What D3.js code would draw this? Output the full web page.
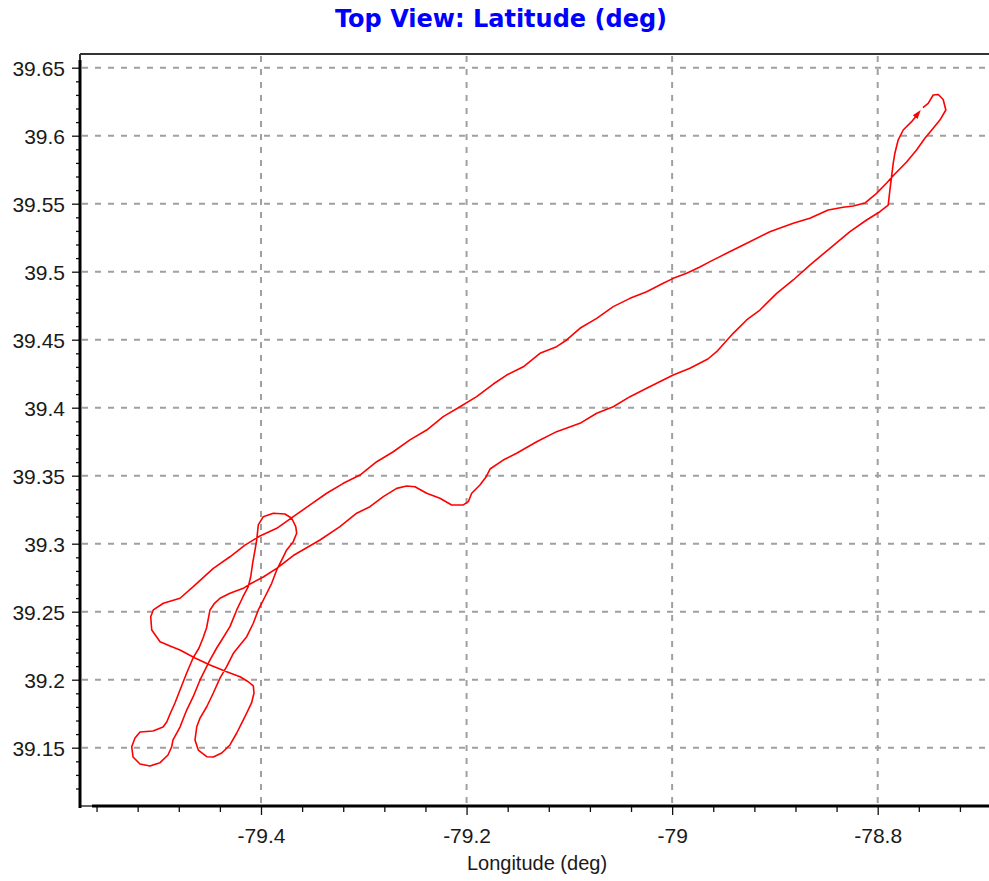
<!DOCTYPE html>
<html>
<head>
<meta charset="utf-8">
<script src="https://cdn.jsdelivr.net/npm/d3@7"></script>
<style>
  html, body { margin: 0; padding: 0; background: #fff; }
  svg { display: block; }
</style>
</head>
<body>
<svg id="chart" width="989" height="881"></svg>
<script>
// ---------------- DATA ----------------
const title = "Top View: Latitude (deg)";
const xLabel = "Longitude (deg)";

const xTicks = [-79.4, -79.2, -79.0, -78.8];
const xTickLabels = ["-79.4", "-79.2", "-79", "-78.8"];
const yTicks = [39.15, 39.2, 39.25, 39.3, 39.35, 39.4, 39.45, 39.5, 39.55, 39.6, 39.65];
const yTickLabels = ["39.15", "39.2", "39.25", "39.3", "39.35", "39.4", "39.45", "39.5", "39.55", "39.6", "39.65"];
const xMinorTicks = [-79.56, -79.52, -79.48, -79.44, -79.36, -79.32, -79.28, -79.24,
  -79.16, -79.12, -79.08, -79.04, -78.96, -78.92, -78.88, -78.84, -78.76, -78.72];
const yMinorTicks = [39.12, 39.13, 39.14, 39.16, 39.17, 39.18, 39.19, 39.21, 39.22, 39.23, 39.24,
  39.26, 39.27, 39.28, 39.29, 39.31, 39.32, 39.33, 39.34, 39.36, 39.37, 39.38, 39.39,
  39.41, 39.42, 39.43, 39.44, 39.46, 39.47, 39.48, 39.49, 39.51, 39.52, 39.53, 39.54,
  39.56, 39.57, 39.58, 39.59, 39.61, 39.62, 39.63, 39.64];

// flight track (longitude, latitude), in time order; ends at aircraft marker
const lon = [
  -78.7560, -78.7509, -78.7460, -78.7411, -78.7363, -78.7337, -78.7395, -78.7460, -78.7541, -78.7622,
  -78.7719, -78.7852, -78.7913, -78.8011, -78.8125, -78.8238, -78.8336, -78.8482, -78.8660, -78.8822,
  -78.9049, -78.9308, -78.9470, -78.9632, -78.9730, -78.9859, -78.9989, -79.0087, -79.0248, -79.0410,
  -79.0573, -79.0734, -79.0897, -79.1026, -79.1124, -79.1286, -79.1448, -79.1610, -79.1740, -79.1902,
  -79.2064, -79.2227, -79.2388, -79.2551, -79.2713, -79.2874, -79.3037, -79.3199, -79.3361, -79.3523,
  -79.3686, -79.3847, -79.4010, -79.4156, -79.4302, -79.4464, -79.4659, -79.4788, -79.4950, -79.5048,
  -79.5073, -79.5063, -79.4982, -79.4885, -79.4788, -79.4642, -79.4496, -79.4334, -79.4204, -79.4124,
  -79.4075, -79.4068, -79.4092, -79.4139, -79.4172, -79.4236, -79.4302, -79.4382, -79.4464, -79.4528,
  -79.4610, -79.4642, -79.4625, -79.4593, -79.4528, -79.4464, -79.4399, -79.4334, -79.4269, -79.4204,
  -79.4139, -79.4075, -79.4026, -79.3961, -79.3896, -79.3847, -79.3799, -79.3750, -79.3686, -79.3653,
  -79.3662, -79.3701, -79.3767, -79.3880, -79.3978, -79.4026, -79.4042, -79.4058, -79.4081, -79.4100,
  -79.4124, -79.4175, -79.4236, -79.4302, -79.4382, -79.4431, -79.4496, -79.4593, -79.4661, -79.4723,
  -79.4788, -79.4856, -79.4869, -79.4905, -79.4982, -79.5080, -79.5177, -79.5245, -79.5258, -79.5226,
  -79.5177, -79.5051, -79.4953, -79.4917, -79.4885, -79.4837, -79.4788, -79.4723, -79.4661, -79.4603,
  -79.4564, -79.4530, -79.4511, -79.4496, -79.4457, -79.4399, -79.4302, -79.4172, -79.4107, -79.3978,
  -79.3847, -79.3686, -79.3426, -79.3232, -79.3069, -79.2940, -79.2810, -79.2680, -79.2583, -79.2502,
  -79.2388, -79.2259, -79.2145, -79.2032, -79.1983, -79.1950, -79.1870, -79.1811, -79.1772, -79.1643,
  -79.1513, -79.1318, -79.1124, -79.0897, -79.0734, -79.0573, -79.0410, -79.0248, -79.0087, -78.9989,
  -78.9827, -78.9652, -78.9567, -78.9406, -78.9275, -78.9146, -78.8983, -78.8822, -78.8660, -78.8465,
  -78.8270, -78.8108, -78.7979, -78.7898, -78.7881, -78.7865, -78.7849, -78.7833, -78.7801, -78.7752,
  -78.7670, -78.7599
];
const lat = [
  39.6207, 39.6238, 39.6299, 39.6303, 39.6266, 39.6189, 39.6115, 39.6054, 39.5981, 39.5895,
  39.5807, 39.5704, 39.5652, 39.5576, 39.5505, 39.5483, 39.5474, 39.5454, 39.5393, 39.5356,
  39.5294, 39.5196, 39.5135, 39.5074, 39.5035, 39.4988, 39.4951, 39.4915, 39.4853, 39.4804,
  39.4743, 39.4657, 39.4584, 39.4498, 39.4449, 39.4400, 39.4301, 39.4240, 39.4174, 39.4081,
  39.4007, 39.3934, 39.3836, 39.3763, 39.3676, 39.3603, 39.3505, 39.3444, 39.3371, 39.3285,
  39.3199, 39.3113, 39.3057, 39.2990, 39.2904, 39.2819, 39.2684, 39.2599, 39.2562, 39.2513,
  39.2463, 39.2365, 39.2279, 39.2248, 39.2218, 39.2160, 39.2108, 39.2059, 39.2022, 39.1985,
  39.1954, 39.1902, 39.1829, 39.1755, 39.1704, 39.1608, 39.1520, 39.1461, 39.1432, 39.1434,
  39.1483, 39.1557, 39.1654, 39.1718, 39.1801, 39.1902, 39.2012, 39.2096, 39.2194, 39.2255,
  39.2316, 39.2415, 39.2513, 39.2610, 39.2709, 39.2807, 39.2880, 39.2954, 39.3015, 39.3077,
  39.3125, 39.3187, 39.3218, 39.3224, 39.3199, 39.3138, 39.3027, 39.2954, 39.2858, 39.2757,
  39.2684, 39.2610, 39.2513, 39.2390, 39.2292, 39.2233, 39.2145, 39.1998, 39.1873, 39.1777,
  39.1652, 39.1557, 39.1507, 39.1446, 39.1390, 39.1365, 39.1380, 39.1432, 39.1507, 39.1571,
  39.1615, 39.1623, 39.1652, 39.1689, 39.1748, 39.1829, 39.1924, 39.2049, 39.2160, 39.2233,
  39.2307, 39.2380, 39.2454, 39.2513, 39.2557, 39.2599, 39.2635, 39.2672, 39.2704, 39.2755,
  39.2819, 39.2913, 39.3027, 39.3125, 39.3224, 39.3272, 39.3346, 39.3407, 39.3424, 39.3419,
  39.3371, 39.3334, 39.3285, 39.3285, 39.3309, 39.3371, 39.3432, 39.3490, 39.3549, 39.3615,
  39.3665, 39.3750, 39.3824, 39.3885, 39.3959, 39.4007, 39.4081, 39.4143, 39.4204, 39.4240,
  39.4290, 39.4358, 39.4412, 39.4547, 39.4645, 39.4718, 39.4841, 39.4939, 39.5049, 39.5172,
  39.5294, 39.5380, 39.5441, 39.5490, 39.5601, 39.5699, 39.5797, 39.5871, 39.5968, 39.6042,
  39.6103, 39.6171
];

// ---------------- LAYOUT ----------------
const W = 989, H = 881;
const plotLeft = 80, plotRight = 989, plotTop = 54, plotBottom = 806;

const x = d3.scaleLinear().domain([-79.4, -78.8]).range([261, 877.7]);
const y = d3.scaleLinear().domain([39.15, 39.65]).range([747.7, 67.7]);

const svg = d3.select("#chart");
svg.append("rect").attr("width", W).attr("height", H).attr("fill", "#fff");

const defs = svg.append("defs");
defs.append("marker")
  .attr("id", "arrow")
  .attr("viewBox", "0 -4 9 8")
  .attr("refX", 6).attr("refY", 0)
  .attr("markerWidth", 9).attr("markerHeight", 8)
  .attr("markerUnits", "userSpaceOnUse")
  .attr("orient", "auto")
  .append("path").attr("d", "M0,-3L9,0L0,3Z").attr("fill", "#ff0000");

// gridlines
const grid = svg.append("g").attr("stroke", "#a0a0a0").attr("stroke-width", 2)
  .attr("stroke-dasharray", "6,7").attr("fill", "none");
grid.selectAll("line.v").data(xTicks).join("line").attr("class", "v")
  .attr("x1", d => x(d)).attr("x2", d => x(d))
  .attr("y1", plotTop + 2).attr("y2", plotBottom);
grid.selectAll("line.h").data(yTicks).join("line").attr("class", "h")
  .attr("x1", plotLeft + 2).attr("x2", plotRight)
  .attr("y1", d => y(d)).attr("y2", d => y(d));

// top frame line
svg.append("line").attr("x1", plotLeft).attr("x2", plotRight)
  .attr("y1", plotTop).attr("y2", plotTop)
  .attr("stroke", "#333").attr("stroke-width", 2);
svg.append("line").attr("x1", plotLeft).attr("x2", plotLeft)
  .attr("y1", plotTop).attr("y2", plotBottom)
  .attr("stroke", "#333").attr("stroke-width", 2);
svg.append("line").attr("x1", plotLeft).attr("x2", plotRight)
  .attr("y1", plotBottom).attr("y2", plotBottom)
  .attr("stroke", "#333").attr("stroke-width", 1.5);

// flight track
const pts = lon.map((d, i) => [d, lat[i]]);
const line = d3.line().x(d => x(d[0])).y(d => y(d[1])).curve(d3.curveLinear);
svg.append("path").datum(pts)
  .attr("d", line)
  .attr("fill", "none")
  .attr("stroke", "#ff0000")
  .attr("stroke-width", 1.6)
  .attr("stroke-linejoin", "round")
  .attr("marker-end", "url(#arrow)");

// axes
const tickFont = "'Liberation Sans', Arial, sans-serif";
const xAxisG = svg.append("g").attr("transform", `translate(0,${plotBottom})`);
xAxisG.append("g").call(d3.axisBottom(x).tickValues(xMinorTicks).tickSize(6).tickFormat(""))
  .call(g => g.select(".domain").remove());
xAxisG.append("g").call(d3.axisBottom(x).tickValues(xTicks).tickSize(9)
    .tickFormat((d, i) => xTickLabels[i]))
  .call(g => g.select(".domain").remove())
  .call(g => g.selectAll("text").attr("y", 37).attr("dy", null)
    .attr("font-family", tickFont).attr("font-size", 21).attr("fill", "#1a1a1a"));
xAxisG.selectAll(".tick line").attr("stroke", "#111").attr("stroke-width", 1.3);

const yAxisG = svg.append("g").attr("transform", `translate(${plotLeft},0)`);
yAxisG.append("g").call(d3.axisLeft(y).tickValues(yMinorTicks).tickSize(4).tickFormat(""))
  .call(g => g.select(".domain").remove());
yAxisG.append("g").call(d3.axisLeft(y).tickValues(yTicks).tickSize(8)
    .tickFormat((d, i) => yTickLabels[i]))
  .call(g => g.select(".domain").remove())
  .call(g => g.selectAll("text").attr("x", -15).attr("dy", "0.36em")
    .attr("font-family", tickFont).attr("font-size", 21).attr("fill", "#1a1a1a"));
yAxisG.selectAll(".tick line").attr("stroke", "#111").attr("stroke-width", 1.3);

// thick axis lines
svg.append("line").attr("x1", plotLeft).attr("x2", plotLeft)
  .attr("y1", 60).attr("y2", plotBottom + 2)
  .attr("stroke", "#000").attr("stroke-width", 3);
svg.append("line").attr("x1", 92).attr("x2", plotRight)
  .attr("y1", plotBottom).attr("y2", plotBottom)
  .attr("stroke", "#000").attr("stroke-width", 3);

// title & axis label
svg.append("text").text(title)
  .attr("x", 501).attr("y", 27)
  .attr("text-anchor", "middle")
  .attr("font-family", "'DejaVu Sans', Verdana, sans-serif")
  .attr("font-weight", "bold").attr("font-size", 24)
  .attr("fill", "#0000ff");

svg.append("text").text(xLabel)
  .attr("x", 537).attr("y", 870)
  .attr("text-anchor", "middle")
  .attr("font-family", tickFont)
  .attr("font-size", 20).attr("fill", "#1a1a1a");
</script>
</body>
</html>
